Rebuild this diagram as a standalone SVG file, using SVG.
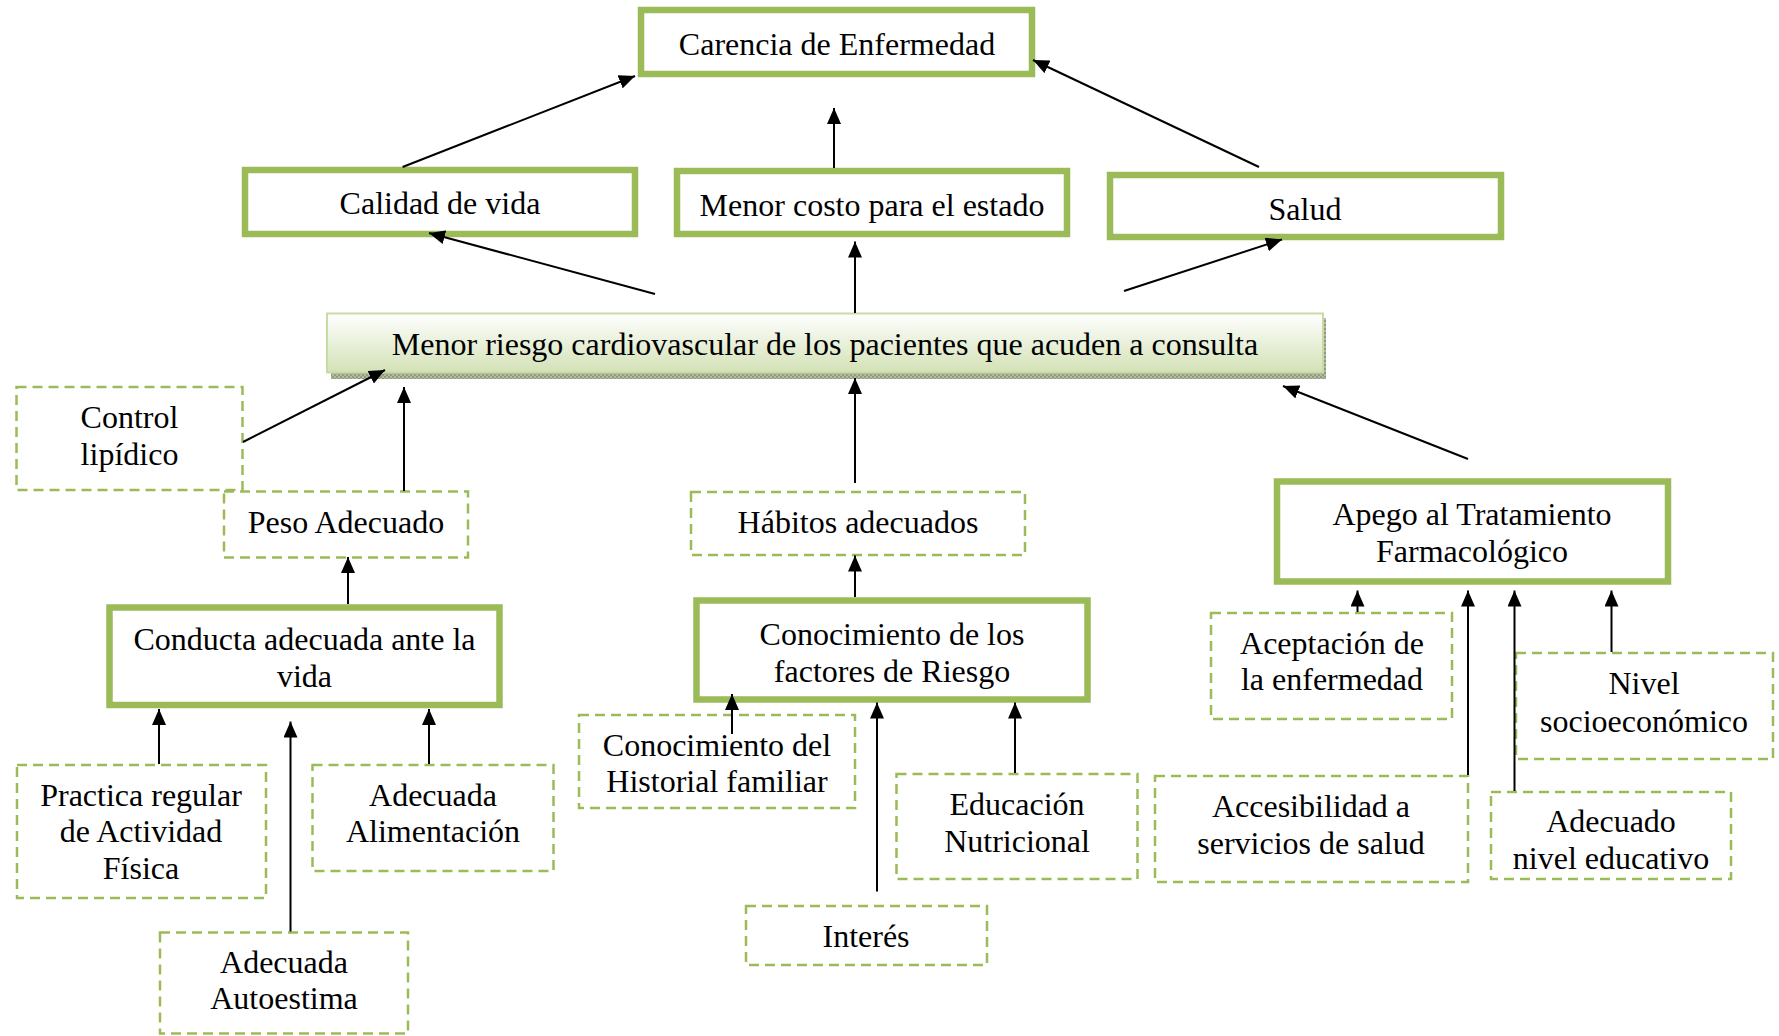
<svg xmlns="http://www.w3.org/2000/svg" width="1779" height="1036" viewBox="0 0 1779 1036">
<style>
text{font-family:"Liberation Serif","Times New Roman",serif;font-size:32px;fill:#000;text-anchor:middle}
.thick{fill:#fff;stroke:#9bbb59;stroke-width:6.5}
.dash{fill:#fff;stroke:#9bbb59;stroke-width:2.5;stroke-dasharray:10 6}
.arr{fill:none;stroke:#000;stroke-width:2;marker-end:url(#ah)}
</style>
<defs>
<marker id="ah" markerUnits="userSpaceOnUse" markerWidth="16" markerHeight="14" refX="16" refY="7" orient="auto">
<path d="M0,0 L16,7 L0,14 z" fill="#000"/>
</marker>
<linearGradient id="mrg" x1="0" y1="0" x2="0" y2="1">
<stop offset="0" stop-color="#ffffff"/>
<stop offset="1" stop-color="#d3e1b6"/>
</linearGradient>
<pattern id="hatch" width="4" height="4" patternUnits="userSpaceOnUse">
<rect width="4" height="4" fill="#b3bba3"/>
<rect width="2" height="2" fill="#8f9a7e"/>
<rect x="2" y="2" width="2" height="2" fill="#8f9a7e"/>
</pattern>
</defs>
<rect width="1779" height="1036" fill="#fff"/>

<g id="carencia"><rect class="thick" x="641" y="10" width="391" height="64"/><text x="837" y="54.5">Carencia de Enfermedad</text></g>
<g id="calidad"><rect class="thick" x="245" y="170" width="390" height="64"/><text x="440" y="213.5">Calidad de vida</text></g>
<g id="menor-costo"><rect class="thick" x="677" y="171" width="390" height="63"/><text x="872" y="215.5">Menor costo para el estado</text></g>
<g id="salud"><rect class="thick" x="1110" y="175" width="391" height="62"/><text x="1305" y="219.5">Salud</text></g>

<g id="menor-riesgo">
<rect x="331" y="318" width="995" height="61" fill="url(#hatch)"/>
<rect x="327" y="313.5" width="996" height="59" fill="url(#mrg)" stroke="#c9dba5" stroke-width="2"/>
<text x="825" y="354.5">Menor riesgo cardiovascular de los pacientes que acuden a consulta</text>
</g>

<g id="control"><rect class="dash" x="16.5" y="387" width="226" height="103"/><text x="129.5" y="428">Control</text><text x="129.5" y="464.5">lipídico</text></g>
<g id="peso"><rect class="dash" x="224" y="491.5" width="244" height="66"/><text x="346" y="532.5">Peso Adecuado</text></g>
<g id="habitos"><rect class="dash" x="691" y="492" width="334" height="63"/><text x="858" y="532.5">Hábitos adecuados</text></g>
<g id="apego"><rect class="thick" x="1277" y="481.5" width="391" height="100"/><text x="1472" y="525">Apego al Tratamiento</text><text x="1472" y="561.5">Farmacológico</text></g>
<g id="conducta"><rect class="thick" x="109.5" y="607.5" width="390" height="97.5"/><text x="304.5" y="650">Conducta adecuada ante la</text><text x="304.5" y="686.5">vida</text></g>
<g id="conocimiento"><rect class="thick" x="696.5" y="600.5" width="391" height="99"/><text x="892" y="645">Conocimiento de los</text><text x="892" y="681.5">factores de Riesgo</text></g>
<g id="aceptacion"><rect class="dash" x="1211" y="613" width="241" height="106"/><text x="1332" y="653.5">Aceptación de</text><text x="1332" y="690">la enfermedad</text></g>
<g id="nivel-socio"><rect class="dash" x="1516" y="653" width="257" height="106"/><text x="1644" y="693.5">Nivel</text><text x="1644" y="731.5">socioeconómico</text></g>
<g id="practica"><rect class="dash" x="17" y="765" width="249" height="133"/><text x="141" y="805.5">Practica regular</text><text x="141" y="842">de Actividad</text><text x="141" y="878.5">Física</text></g>
<g id="alimentacion"><rect class="dash" x="312.5" y="765" width="241" height="106"/><text x="433" y="805.5">Adecuada</text><text x="433" y="842">Alimentación</text></g>
<g id="autoestima"><rect class="dash" x="160" y="932.5" width="248" height="101"/><text x="284" y="972.5">Adecuada</text><text x="284" y="1009">Autoestima</text></g>
<g id="historial"><rect class="dash" x="579" y="715" width="276" height="93"/><text x="717" y="755.5">Conocimiento del</text><text x="717" y="791.5">Historial familiar</text></g>
<g id="educacion"><rect class="dash" x="896.5" y="774" width="241" height="105"/><text x="1017" y="815">Educación</text><text x="1017" y="851.5">Nutricional</text></g>
<g id="interes"><rect class="dash" x="746" y="906" width="241" height="59"/><text x="866" y="946.5">Interés</text></g>
<g id="accesibilidad"><rect class="dash" x="1155" y="776" width="313" height="106"/><text x="1311" y="816.5">Accesibilidad a</text><text x="1311" y="853.5">servicios de salud</text></g>
<g id="nivel-educativo"><rect class="dash" x="1491" y="792" width="240" height="87"/><text x="1611" y="831.5">Adecuado</text><text x="1611" y="868.5">nivel educativo</text></g>

<g id="connectors">
<path class="arr" d="M402.6,167 L635,76"/>
<path class="arr" d="M834,168 L834,108"/>
<path class="arr" d="M1259,167 L1033,60"/>
<path class="arr" d="M655,294 L429,233"/>
<path class="arr" d="M855,313 L855,241.5"/>
<path class="arr" d="M1124,291 L1282,239.5"/>
<path class="arr" d="M243,442 L385,370"/>
<path class="arr" d="M404,491 L404,387"/>
<path class="arr" d="M855,483 L855,378"/>
<path class="arr" d="M1468,459 L1283,386"/>
<path class="arr" d="M348,604 L348,557"/>
<path class="arr" d="M855,597 L855,555.5"/>
<path class="arr" d="M159,764 L159,709"/>
<path class="arr" d="M290.5,931.5 L290.5,721.5"/>
<path class="arr" d="M429,764 L429,709"/>
<path class="arr" d="M732,734 L732,694"/>
<path class="arr" d="M877,891.5 L877,702.5"/>
<path class="arr" d="M1015,773 L1015,702.5"/>
<path class="arr" d="M1357.5,612 L1357.5,590.5"/>
<path class="arr" d="M1468,775 L1468,590.5"/>
<path class="arr" d="M1514.5,791 L1514.5,590.5"/>
<path class="arr" d="M1611.5,652 L1611.5,590.5"/>
</g>
</svg>
